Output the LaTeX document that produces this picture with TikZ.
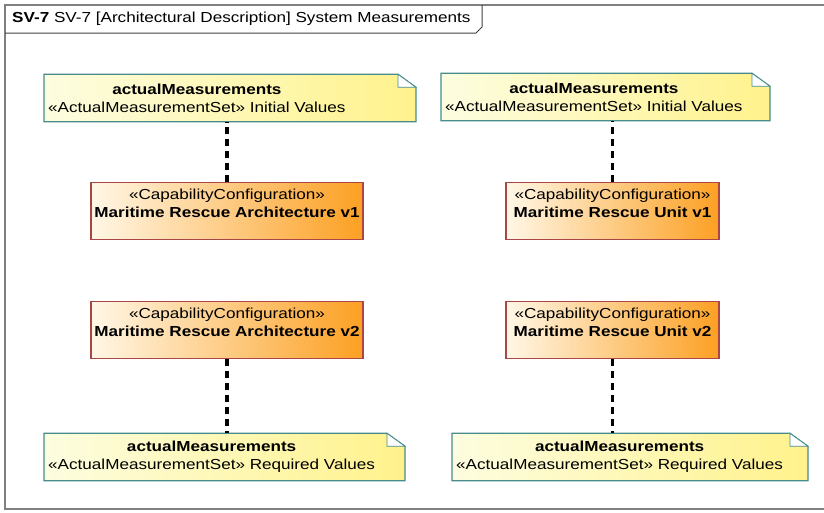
\documentclass[tikz,border=0pt]{standalone}
\usepackage{fontspec}
\setmainfont[FakeStretch=1.18]{Liberation Sans}
\usetikzlibrary{backgrounds}

\definecolor{marco}{RGB}{128,128,128}
\definecolor{notaborde}{RGB}{70,140,140}
\definecolor{notaclaro}{RGB}{253,253,224}
\definecolor{notaoscuro}{RGB}{255,242,140}
\definecolor{confborde}{RGB}{170,70,70}
\definecolor{confclaro}{RGB}{255,247,230}
\definecolor{confoscuro}{RGB}{252,160,35}

\newcommand{\textodiag}{\fontsize{14.5}{18}\selectfont}

% caja de nota con esquina doblada: #1 nodo, #2 x del borde derecho
\newcommand{\cajanota}[2]{%
  \begin{pgfonlayer}{background}
    \draw[notaborde, line width=1.2pt, left color=notaclaro, right color=notaoscuro]
      (#1.north west) -- ([xshift=-18pt]#2,0 |- #1.north)
      -- ([yshift=-13pt]#2,0 |- #1.north) -- (#2,0 |- #1.south)
      -- (#1.south west) -- cycle;
    \draw[notaborde, line width=0.8pt, fill=white]
      ([xshift=-18pt]#2,0 |- #1.north) -- ([xshift=-18pt,yshift=-13pt]#2,0 |- #1.north)
      -- ([yshift=-13pt]#2,0 |- #1.north) -- cycle;
  \end{pgfonlayer}}

\begin{document}
\begin{tikzpicture}[x=1pt, y=-1pt,
    nota/.style={anchor=west, align=center, inner xsep=4pt, inner ysep=0pt,
      minimum height=47pt, font=\textodiag},
    conf/.style={draw=confborde, line width=1.2pt, left color=confclaro,
      right color=confoscuro, align=center, minimum height=57pt,
      inner sep=2pt, text depth=16pt, font=\textodiag},
    enlace/.style={line width=3.2pt, dash pattern=on 7pt off 5pt}]
  \useasboundingbox (0,0) rectangle (824,512);

  % Marco
  \draw[marco, line width=2pt] (830,5) -- (5,5) -- (5,509) -- (830,509);
  \draw[black!75, line width=1pt] (5,33) -- (476,33) -- (482,27) -- (482,5);
  \node[anchor=west, inner sep=0pt, font=\textodiag] (titulo) at (12,19)
    {\textbf{SV-7} SV-7 [Architectural Description] System Measurements};

  % Notas
  \node[nota] (medA1) at (44,98)
    {\textbf{actualMeasurements}\\«ActualMeasurementSet» Initial Values};
  \node[nota] (medU1) at (441,97)
    {\textbf{actualMeasurements}\\«ActualMeasurementSet» Initial Values};
  \node[nota] (medA2) at (44,457)
    {\textbf{actualMeasurements}\\«ActualMeasurementSet» Required Values};
  \node[nota] (medU2) at (452,457)
    {\textbf{actualMeasurements}\\«ActualMeasurementSet» Required Values};
  \cajanota{medA1}{416}
  \cajanota{medU1}{770}
  \cajanota{medA2}{405}
  \cajanota{medU2}{808}

  % Configuraciones
  \node[conf, minimum width=272pt] (arqV1) at (227,211)
    {«CapabilityConfiguration»\\\textbf{Maritime Rescue Architecture v1}};
  \node[conf, minimum width=213pt] (uniV1) at (612.5,211)
    {«CapabilityConfiguration»\\\textbf{Maritime Rescue Unit v1}};
  \node[conf, minimum width=272pt] (arqV2) at (227,330)
    {«CapabilityConfiguration»\\\textbf{Maritime Rescue Architecture v2}};
  \node[conf, minimum width=213pt] (uniV2) at (612.5,330)
    {«CapabilityConfiguration»\\\textbf{Maritime Rescue Unit v2}};

  % Enlaces
  \draw[enlace] (arqV1) -- (arqV1 |- medA1.south);
  \draw[enlace] (uniV1) -- (uniV1 |- medU1.south);
  \draw[enlace] (arqV2) -- (arqV2 |- medA2.north);
  \draw[enlace] (uniV2) -- (uniV2 |- medU2.north);
\end{tikzpicture}
\end{document}
